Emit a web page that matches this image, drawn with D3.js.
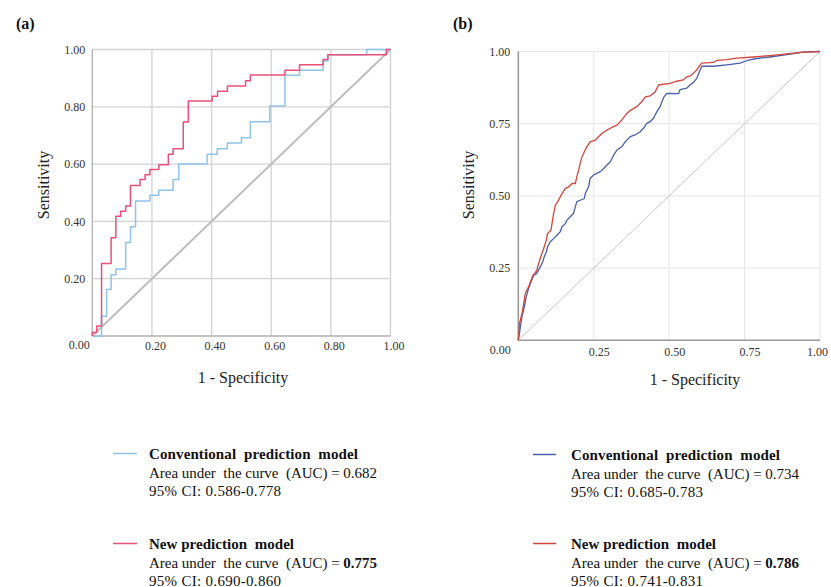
<!DOCTYPE html>
<html><head><meta charset="utf-8">
<script src="https://cdn.jsdelivr.net/npm/d3@7"></script>
<style>
html,body{margin:0;padding:0;background:#fff;}
svg{display:block;font-family:"Liberation Serif","Times New Roman",serif;}
</style></head>
<body>
<svg id="chart" width="831" height="587"></svg>
<script>
// ---------- Data (fpr = 1 - specificity, tpr = sensitivity) ----------
const ticksA = [0, 0.2, 0.4, 0.6, 0.8, 1.0];
const ticksB = [0, 0.25, 0.5, 0.75, 1.0];

// Panel (a): step-curve vertices (left end of each horizontal run)
const aConvFpr = [0, 0.031, 0.048, 0.063, 0.079, 0.112, 0.128, 0.145, 0.193, 0.223, 0.271, 0.290, 0.385, 0.419, 0.453, 0.500, 0.530, 0.595, 0.646, 0.695, 0.774, 0.790, 0.920, 1.0];
const aConvTpr = [0, 0.069, 0.162, 0.214, 0.234, 0.326, 0.381, 0.471, 0.491, 0.509, 0.546, 0.600, 0.634, 0.654, 0.674, 0.692, 0.748, 0.803, 0.910, 0.928, 0.960, 0.982, 1.0, 1.0];
const aNewFpr = [0, 0, 0.015, 0.031, 0.063, 0.079, 0.095, 0.112, 0.128, 0.160, 0.177, 0.193, 0.223, 0.255, 0.271, 0.305, 0.322, 0.402, 0.420, 0.453, 0.514, 0.530, 0.646, 0.695, 0.774, 0.790, 0.986, 1.0];
const aNewTpr = [0, 0.012, 0.035, 0.253, 0.343, 0.418, 0.435, 0.454, 0.525, 0.546, 0.563, 0.581, 0.598, 0.634, 0.654, 0.747, 0.820, 0.837, 0.854, 0.873, 0.891, 0.911, 0.928, 0.947, 0.965, 0.982, 1.0, 1.0];

// Panel (b)
const bConvFpr = [0, 0.007, 0.012, 0.020, 0.026, 0.034, 0.042, 0.051, 0.060, 0.067, 0.073, 0.081, 0.086, 0.093, 0.097, 0.106, 0.117, 0.128, 0.139, 0.145, 0.156, 0.161, 0.172, 0.183, 0.189, 0.194, 0.205, 0.219, 0.222, 0.233, 0.238, 0.249, 0.260, 0.272, 0.283, 0.294, 0.305, 0.316, 0.327, 0.343, 0.354, 0.371, 0.387, 0.404, 0.415, 0.426, 0.437, 0.448, 0.459, 0.470, 0.476, 0.483, 0.492, 0.531, 0.536, 0.558, 0.570, 0.581, 0.592, 0.603, 0.608, 0.647, 0.691, 0.735, 0.757, 0.779, 0.834, 0.890, 0.945, 1.0];
const bConvTpr = [0, 0.046, 0.081, 0.116, 0.150, 0.179, 0.202, 0.225, 0.231, 0.243, 0.254, 0.272, 0.289, 0.306, 0.324, 0.341, 0.352, 0.364, 0.376, 0.393, 0.404, 0.416, 0.428, 0.439, 0.462, 0.480, 0.485, 0.491, 0.508, 0.532, 0.560, 0.572, 0.578, 0.584, 0.595, 0.607, 0.618, 0.641, 0.659, 0.670, 0.687, 0.705, 0.711, 0.722, 0.734, 0.751, 0.757, 0.769, 0.791, 0.809, 0.826, 0.843, 0.855, 0.854, 0.868, 0.873, 0.885, 0.893, 0.908, 0.937, 0.949, 0.949, 0.954, 0.960, 0.968, 0.974, 0.981, 0.989, 0.998, 1.0];
const bNewFpr = [0, 0.004, 0.012, 0.018, 0.023, 0.034, 0.040, 0.049, 0.062, 0.064, 0.071, 0.078, 0.084, 0.093, 0.097, 0.108, 0.111, 0.117, 0.123, 0.130, 0.145, 0.156, 0.167, 0.178, 0.189, 0.194, 0.200, 0.205, 0.211, 0.219, 0.227, 0.238, 0.255, 0.266, 0.277, 0.294, 0.310, 0.327, 0.343, 0.360, 0.373, 0.393, 0.409, 0.421, 0.437, 0.454, 0.465, 0.503, 0.525, 0.547, 0.558, 0.570, 0.581, 0.592, 0.603, 0.608, 0.647, 0.658, 0.691, 0.724, 0.779, 0.834, 0.890, 0.945, 1.0];
const bNewTpr = [0, 0.058, 0.092, 0.127, 0.162, 0.185, 0.202, 0.225, 0.243, 0.254, 0.277, 0.300, 0.318, 0.347, 0.370, 0.381, 0.399, 0.439, 0.468, 0.479, 0.508, 0.526, 0.531, 0.543, 0.543, 0.566, 0.589, 0.612, 0.635, 0.653, 0.670, 0.687, 0.693, 0.705, 0.716, 0.728, 0.737, 0.745, 0.763, 0.786, 0.797, 0.809, 0.826, 0.843, 0.846, 0.861, 0.884, 0.890, 0.897, 0.902, 0.912, 0.916, 0.925, 0.937, 0.954, 0.960, 0.962, 0.969, 0.972, 0.977, 0.981, 0.986, 0.992, 0.998, 1.0];

const legendTitles = ["Conventional  prediction  model", "New prediction  model"];
const aucA = ["0.682", "0.775"], ciA = ["0.586-0.778", "0.690-0.860"];
const aucB = ["0.734", "0.786"], ciB = ["0.685-0.783", "0.741-0.831"];

// ---------- Drawing ----------
const svg = d3.select("#chart");
const zip = (xs, ys) => xs.map((x, i) => [x, ys[i]]);

function panel(cfg) {
  const x = d3.scaleLinear().domain([0, 1]).range(cfg.xr);
  const y = d3.scaleLinear().domain([0, 1]).range(cfg.yr);
  const g = svg.append("g");
  const gridTicks = cfg.ticks.filter(t => t > 0);

  // grid
  g.append("g").selectAll("line.v").data(gridTicks).join("line")
    .attr("x1", d => x(d)).attr("x2", d => x(d)).attr("y1", y(0)).attr("y2", y(1))
    .attr("stroke", cfg.gridColor).attr("stroke-width", cfg.gridW);
  g.append("g").selectAll("line.h").data(gridTicks).join("line")
    .attr("y1", d => y(d)).attr("y2", d => y(d)).attr("x1", x(0)).attr("x2", x(1))
    .attr("stroke", cfg.gridColor).attr("stroke-width", cfg.gridW);
  // axes lines
  g.append("line").attr("x1", x(0)).attr("x2", x(0)).attr("y1", y(0)).attr("y2", y(1))
    .attr("stroke", cfg.axisColor).attr("stroke-width", cfg.axisW);
  g.append("line").attr("x1", x(0)).attr("x2", x(1)).attr("y1", y(0)).attr("y2", y(0))
    .attr("stroke", cfg.axisColor).attr("stroke-width", cfg.axisW);

  // diagonal reference
  g.append("path").datum([[0, 0], [1, 1]])
    .attr("d", d3.line().x(d => x(d[0])).y(d => y(d[1])))
    .attr("stroke", cfg.diagColor).attr("stroke-width", cfg.diagW).attr("fill", "none");

  // curves
  cfg.series.forEach(s => {
    g.append("path").datum(zip(s.fpr, s.tpr))
      .attr("d", d3.line().x(d => x(d[0])).y(d => y(d[1])).curve(cfg.curve))
      .attr("fill", "none").attr("stroke", s.color).attr("stroke-width", cfg.lineW)
      .attr("stroke-linejoin", "round");
  });

  // tick labels via axes
  const fmt = d3.format(".2f");
  const yAx = g.append("g").attr("transform", `translate(${x(0) - cfg.yoff},0)`)
    .call(d3.axisLeft(y).tickValues(gridTicks).tickSize(0).tickFormat(fmt));
  yAx.select(".domain").remove();
  yAx.selectAll("text").attr("font-family", "Liberation Serif, serif").attr("font-size", 12).attr("fill", "#333");
  const xAx = g.append("g").attr("transform", `translate(${cfg.xdx},${y(0) + cfg.xoff})`)
    .call(d3.axisBottom(x).tickValues(gridTicks).tickSize(0).tickFormat(fmt));
  xAx.select(".domain").remove();
  xAx.selectAll("text").attr("font-family", "Liberation Serif, serif").attr("font-size", 12).attr("fill", "#333")
    .attr("dx", d => d === 1 ? cfg.lastDx : 0);
  g.append("text").attr("x", x(0) - cfg.zeroDx).attr("y", y(0) + cfg.zeroDy).attr("text-anchor", "middle")
    .attr("font-size", 12).attr("fill", "#333").text(fmt(0));

  // axis titles
  g.append("text").attr("x", cfg.xtx).attr("y", cfg.xty).attr("text-anchor", "middle")
    .attr("font-size", 16).attr("fill", "#222").text("1 - Specificity");
  g.append("text").attr("transform", `translate(${cfg.ytx},${cfg.yty}) rotate(-90)`)
    .attr("text-anchor", "middle").attr("font-size", 16).attr("fill", "#222").text("Sensitivity");
  // panel label
  g.append("text").attr("x", cfg.lx).attr("y", 29).attr("font-size", 16).attr("font-weight", "bold")
    .attr("fill", "#111").text(cfg.label);

  // legend
  const L = cfg.legend;
  cfg.series.forEach((s, i) => {
    const y0 = L.y[i];
    g.append("line").attr("x1", L.lx0).attr("x2", L.lx1).attr("y1", y0 - 5.5).attr("y2", y0 - 5.5)
      .attr("stroke", s.color).attr("stroke-width", 1.5);
    g.append("text").attr("x", L.tx).attr("y", y0).attr("font-size", 15).attr("font-weight", "bold")
      .attr("fill", "#111").attr("xml:space", "preserve")
      .attr("textLength", L.w1[i]).attr("lengthAdjust", "spacing").text(legendTitles[i]);
    const t2 = g.append("text").attr("x", L.tx).attr("y", y0 + 18.5).attr("font-size", 15)
      .attr("fill", "#111").attr("xml:space", "preserve")
      .attr("textLength", 228).attr("lengthAdjust", "spacing");
    t2.append("tspan").text("Area under  the curve  (AUC) = ");
    t2.append("tspan").attr("font-weight", i === 1 ? "bold" : "normal").text(s.auc);
    g.append("text").attr("x", L.tx).attr("y", y0 + 36.5).attr("font-size", 15)
      .attr("fill", "#111").attr("textLength", 132).attr("lengthAdjust", "spacing")
      .text("95% CI: " + s.ci);
  });
}

panel({
  label: "(a)", lx: 16,
  xr: [92.3, 390.5], yr: [336, 49.5], ticks: ticksA, xdx: 3, xoff: 2, yoff: 4, lastDx: 0,
  zeroDx: 13, zeroDy: 13,
  gridColor: "#d2d2d2", gridW: 1.3, axisColor: "#b0b0b0", axisW: 1.3,
  diagColor: "#bdbdbd", diagW: 2, lineW: 1.5, curve: d3.curveStepAfter,
  xtx: 243, xty: 383, ytx: 49, yty: 185,
  series: [
    {fpr: aConvFpr, tpr: aConvTpr, color: "#8fc3ea", auc: aucA[0], ci: ciA[0]},
    {fpr: aNewFpr, tpr: aNewTpr, color: "#e8507a", auc: aucA[1], ci: ciA[1]}
  ],
  legend: {lx0: 113, lx1: 137, tx: 149, y: [459, 549], w1: [209, 145]}
});

panel({
  label: "(b)", lx: 453,
  xr: [518.3, 820], yr: [340.3, 51.5], ticks: ticksB, xdx: 5, xoff: 4, yoff: 5, lastDx: -8,
  zeroDx: 18, zeroDy: 14,
  gridColor: "#e6e6e6", gridW: 1, axisColor: "#9a9a9a", axisW: 1.6,
  diagColor: "#c8c8c8", diagW: 1, lineW: 1.3, curve: d3.curveLinear,
  xtx: 695, xty: 385, ytx: 474, yty: 185,
  series: [
    {fpr: bConvFpr, tpr: bConvTpr, color: "#4b5ea8", auc: aucB[0], ci: ciB[0]},
    {fpr: bNewFpr, tpr: bNewTpr, color: "#d2463e", auc: aucB[1], ci: ciB[1]}
  ],
  legend: {lx0: 533, lx1: 556, tx: 571, y: [460, 549], w1: [209, 145]}
});
</script>
</body></html>
